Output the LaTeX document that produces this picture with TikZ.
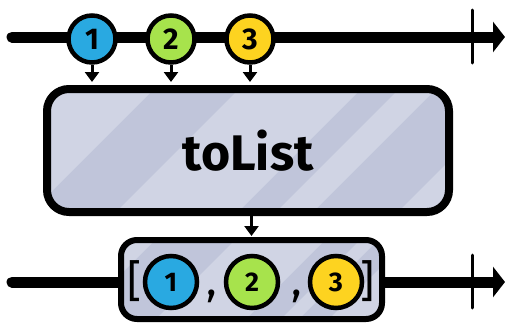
\documentclass[tikz,border=0pt]{standalone}
\usepackage{fontspec}
\setmainfont{Fira Sans}
\usetikzlibrary{arrows.meta,calc,backgrounds}
\definecolor{boxfill}{HTML}{C0C5DA}
\definecolor{boxlight}{HTML}{D0D4E4}
\definecolor{mblue}{HTML}{29A9E1}
\definecolor{mgreen}{HTML}{A7E34C}
\definecolor{myellow}{HTML}{FDD320}
\begin{document}
\begin{tikzpicture}[x=1pt,y=-1pt,
 timeline/.style={line width=11pt, line cap=round, -{Triangle[length=12pt,width=30pt]}},
 tickmark/.style={line width=3pt, line cap=round},
 marble/.style={circle, draw=black, line width=4.5pt, inner sep=0pt, minimum size=47pt, font=\fontsize{30}{30}\selectfont\bfseries},
 bigmarble/.style={marble, minimum size=52pt, font=\fontsize{27}{27}\selectfont\bfseries},
 feed/.style={line width=3pt, -{Triangle[length=10pt,width=14pt]}},
 opbox/.style={rectangle, draw=black, line width=8pt, inner sep=0pt},
 glyph/.style={inner sep=0pt, font=\fontsize{44}{44}\selectfont},
]
\useasboundingbox (0,0) rectangle (506,324);
% operator box and result box
\node[opbox, rounded corners=22pt, minimum width=402pt, minimum height=123pt,
      font=\fontsize{50}{50}\selectfont\bfseries] (box) at (248,150.5) {toList};
\node[opbox, rounded corners=16pt, line width=6pt, minimum width=261pt, minimum height=79pt] (res) at (251.5,279.5) {};
% input marbles
\node[marble, fill=mblue]   (m1) at (92,39)  {1};
\node[marble, fill=mgreen]  (m2) at (171,39) {2};
\node[marble, fill=myellow] (m3) at (250,39) {3};
% result marbles
\node[bigmarble, fill=mblue]   (r1) at (171,282) {1};
\node[bigmarble, fill=mgreen]  (r2) at (252,282) {2};
\node[bigmarble, fill=myellow] (r3) at (336,282) {3};
\node[glyph] (lb) at (135,281) {[};
\node[glyph] (rb) at (368,281) {]};
\node[glyph] (c1) at (212,296) {,};
\node[glyph] (c2) at (297,296) {,};
% timeline ends
\coordinate (t1s) at (12,37);  \coordinate (t1e) at (505,37);
\coordinate (t2s) at (12,282); \coordinate (t2e) at (505,282);
\coordinate (k1a) at (472,10);  \coordinate (k1b) at (472,63);
\coordinate (k2a) at (472,255); \coordinate (k2b) at (472,308);
\draw[tickmark] (k1a) -- (k1b);
\draw[tickmark] (k2a) -- (k2b);
% feed arrows
\draw[feed] (m1.south) -- ($(m1.south |- box.north)+(0,-3)$);
\draw[feed] (m2.south) -- ($(m2.south |- box.north)+(0,-3)$);
\draw[feed] (m3.south) -- ($(m3.south |- box.north)+(0,-3)$);
\draw[feed] (res.north |- box.south) -- ($(res.north)+(0,-1)$);
\begin{scope}[on background layer]
  \draw[timeline] (t1s) -- (t1e);
  \draw[timeline] (t2s) -- (t2e);
  \fill[boxfill, rounded corners=22pt] ([xshift=4pt,yshift=-4pt]box.north west) rectangle ([xshift=-4pt,yshift=4pt]box.south east);
  \fill[boxfill, rounded corners=16pt] ([xshift=3pt,yshift=-3pt]res.north west) rectangle ([xshift=-3pt,yshift=3pt]res.south east);
  \begin{scope}
    \clip[rounded corners=18pt] ([xshift=8pt,yshift=-8pt]box.north west) rectangle ([xshift=-8pt,yshift=8pt]box.south east);
    \foreach \a/\b in {0/243, 328/450, 488/525, 610/900}
      \fill[boxlight] (\a,0) -- (\b,0) -- (\b-330,330) -- (\a-330,330) -- cycle;
  \end{scope}
  \begin{scope}
    \clip[rounded corners=13pt] ([xshift=6pt,yshift=-6pt]res.north west) rectangle ([xshift=-6pt,yshift=6pt]res.south east);
    \foreach \a/\b in {0/395, 475/565, 600/618, 648/900}
      \fill[boxlight] (\a,0) -- (\b,0) -- (\b-330,330) -- (\a-330,330) -- cycle;
  \end{scope}
\end{scope}
\end{tikzpicture}
\end{document}
